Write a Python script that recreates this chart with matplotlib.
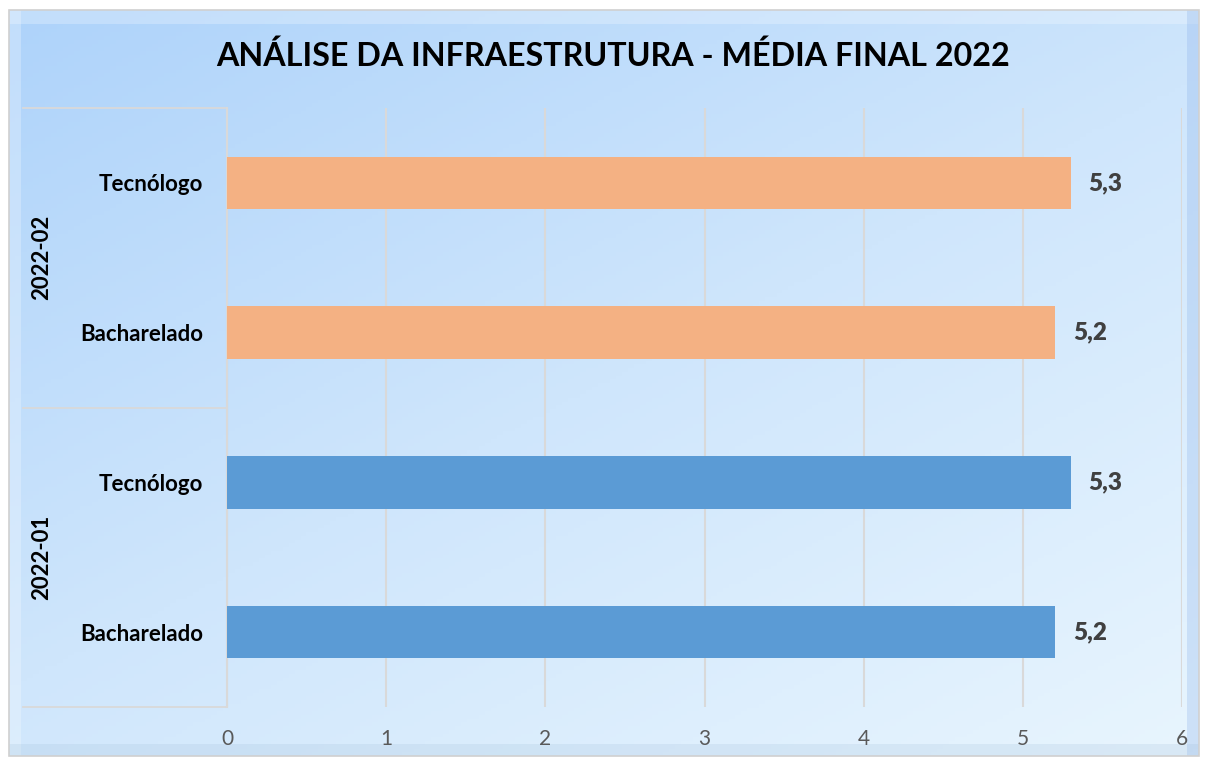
import numpy as np
import matplotlib.pyplot as plt
from matplotlib.patches import Rectangle
from matplotlib.colors import LinearSegmentedColormap

# data
groups = ["2022-01", "2022-02"]
courses = ["Bacharelado", "Tecnólogo"]
media_2022_01 = [5.2, 5.3]
media_2022_02 = [5.2, 5.3]
x_ticks = [0, 1, 2, 3, 4, 5, 6]
title = "ANÁLISE DA INFRAESTRUTURA - MÉDIA FINAL 2022"

color_01 = "#5B9BD5"
color_02 = "#F4B183"
grid_color = "#D9D9D9"

plt.rcParams['font.family'] = ['Lato', 'DejaVu Sans']

W, H = 1205, 762
fig = plt.figure(figsize=(W / 100, H / 100), dpi=100)
fig.patch.set_facecolor("white")

# background with diagonal gradient
bg = fig.add_axes([0, 0, 1, 1], zorder=-10)
bg.set_xlim(0, W)
bg.set_ylim(H, 0)
bg.axis("off")
xx, yy = np.meshgrid(np.linspace(0, 1, 200), np.linspace(0, 1, 200))
grad = (xx * 0.45 + yy * 0.55)
cmap = LinearSegmentedColormap.from_list("bg", ["#AED3FA", "#CFE6FC", "#E8F5FE"])
bg.imshow(grad, cmap=cmap, extent=[9, 1199, 756, 10], aspect="auto", zorder=0)
# bevel-ish edges
bg.add_patch(Rectangle((9, 10), 1190, 14, color="white", alpha=0.25, lw=0, zorder=1))
bg.add_patch(Rectangle((9, 10), 12, 746, color="white", alpha=0.25, lw=0, zorder=1))
bg.add_patch(Rectangle((1187, 10), 12, 746, color="#7FA8E8", alpha=0.25, lw=0, zorder=1))
bg.add_patch(Rectangle((9, 744), 1190, 12, color="#9DBBD8", alpha=0.2, lw=0, zorder=1))
bg.add_patch(Rectangle((9, 10), 1190, 746, fill=False, ec="#D0D0D0", lw=1.2, zorder=2))

ax = fig.add_axes([227 / W, 1 - 707 / H, 955 / W, 599 / H])
ax.set_facecolor("none")

labels = []
values = []
colors = []
for g, vals, c in [(groups[0], media_2022_01, color_01), (groups[1], media_2022_02, color_02)]:
    for course, v in zip(courses, vals):
        labels.append(course)
        values.append(v)
        colors.append(c)
pos = np.arange(len(values))

bars = ax.barh(pos, values, height=0.35, color=colors, zorder=3)
for y, v in zip(pos, values):
    ax.annotate(f"{v:.1f}".replace(".", ","), (v, y), xytext=(13, 0), textcoords="offset points",
                va="center", ha="left", fontsize=17.5, fontweight="heavy", color="#404040")

ax.set_xlim(0, 6)
ax.set_ylim(-0.5, len(values) - 0.5)
ax.set_xticks(x_ticks)
ax.set_xticklabels([str(t) for t in x_ticks], fontsize=15, color="#595959")
ax.set_yticks(pos)
ax.set_yticklabels(labels, fontsize=16, fontweight="bold", color="black")
ax.tick_params(axis="x", length=0, pad=16)
ax.tick_params(axis="y", length=0, pad=17)
ax.grid(axis="x", color=grid_color, lw=1.5, zorder=0)
for s in ax.spines.values():
    s.set_visible(False)

# group labels and category box
tr = ax.get_yaxis_transform()
x_left = (23 - 227) / 955
for yline in [-0.5, 1.5, 3.5]:
    ax.plot([x_left, 0], [yline, yline], color=grid_color, lw=1.3, transform=tr, clip_on=False)
ax.plot([0, 0], [-0.5, 3.5], color=grid_color, lw=1.5, transform=tr, clip_on=False)
for i, g in enumerate(groups):
    ax.text((42 - 227) / 955, 2 * i + 0.5, g, rotation=90, ha="center", va="center",
            fontsize=16, fontweight="bold", transform=tr)

fig.text(613 / W, 1 - 56 / H, title, ha="center", va="center", fontsize=23.2, fontweight="bold", color="black")

fig.savefig("out.png", dpi=100)
